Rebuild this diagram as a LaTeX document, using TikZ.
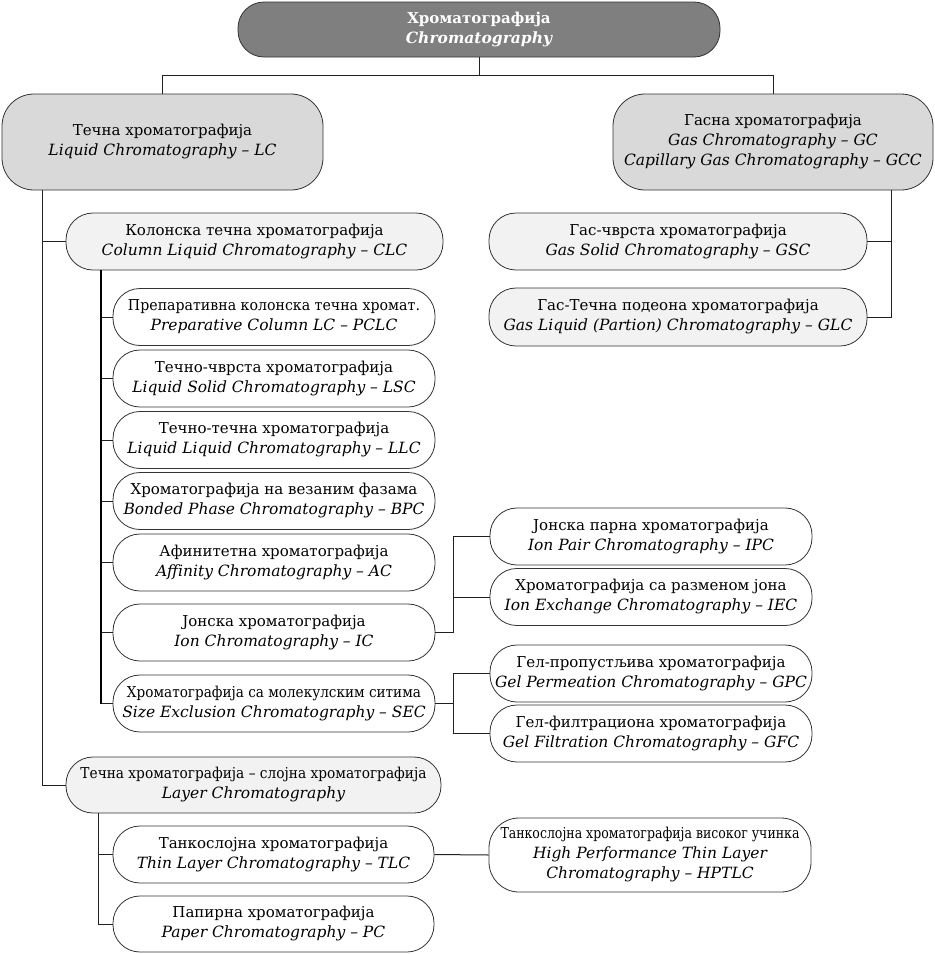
\documentclass[tikz,border=0pt]{standalone}
\usepackage{fontspec}
\usepackage{graphicx}
\setmainfont{DejaVu Serif}
\newcommand{\fs}{\fontsize{15pt}{20pt}\selectfont}
\newcommand{\en}[1]{{\fontsize{15.5pt}{20pt}\selectfont\itshape #1}}
\newcommand{\squeeze}[2]{\resizebox{#1}{\height}{#2}}
\definecolor{topfill}{HTML}{7F7F7F}
\definecolor{midfill}{HTML}{D9D9D9}
\definecolor{lightfill}{HTML}{F2F2F2}
\definecolor{linec}{HTML}{202020}
\begin{document}
\begin{tikzpicture}[x=1pt,y=-1pt,
  box/.style={draw=black!80, line width=0.8pt, align=center, inner sep=0pt, font=\fs,
    rounded corners=27pt, minimum height=57pt, minimum width=322pt, fill=white},
  topbox/.style={box, fill=topfill, text=white, rounded corners=26pt, minimum height=55pt, minimum width=482pt},
  bigbox/.style={box, fill=midfill, rounded corners=32pt, minimum height=96pt, minimum width=321pt},
  lightbox/.style={box, fill=lightfill},
  conn/.style={draw=linec, line width=1pt},
  thick conn/.style={draw=black, line width=1.6pt}
]
\useasboundingbox (0,0) rectangle (935,954);

% top level
\node[topbox] (top) at (479,29.5) {\bfseries Хроматографија\\\en{\bfseries Chromatography}};
\node[bigbox] (LC) at (162.5,142) {Течна хроматографија\\\en{Liquid Chromatography – LC}};
\node[bigbox, minimum width=320pt] (GC) at (773,142) {Гасна хроматографија\\\en{Gas Chromatography – GC}\\\en{Capillary Gas Chromatography – GCC}};

% gas branch
\node[lightbox, minimum width=378pt] (GSC) at (678,241.5) {Гас-чврста хроматографија\\\en{Gas Solid Chromatography – GSC}};
\node[lightbox, minimum width=378pt, minimum height=58pt] (GLC) at (678,317) {Гас-Течна подеона хроматографија\\\en{Gas Liquid (Partion) Chromatography – GLC}};

% column LC
\node[lightbox, minimum width=377pt] (CLC) at (254.5,241.5) {Колонска течна хроматографија\\\en{Column Liquid Chromatography – CLC}};
\node[box] (PCLC) at (274,317) {\squeeze{292pt}{Препаративна колонска течна хромат.}\\\en{Preparative Column LC – PCLC}};
\node[box] (LSC) at (274,378.5) {Течно-чврста хроматографија\\\en{Liquid Solid Chromatography – LSC}};
\node[box] (LLC) at (274,440) {Течно-течна хроматографија\\\en{Liquid Liquid Chromatography – LLC}};
\node[box] (BPC) at (274,501) {Хроматографија на везаним фазама\\\en{Bonded Phase Chromatography – BPC}};
\node[box] (AC) at (274,562.5) {Афинитетна хроматографија\\\en{Affinity Chromatography – AC}};
\node[box] (IC) at (274,632.5) {Јонска хроматографија\\\en{Ion Chromatography – IC}};
\node[box] (SEC) at (274,703.5) {\squeeze{294pt}{Хроматографија са молекулским ситима}\\\en{Size Exclusion Chromatography – SEC}};

\node[box] (IPC) at (651,536.5) {Јонска парна хроматографија\\\en{Ion Pair Chromatography – IPC}};
\node[box] (IEC) at (651,597) {Хроматографија са разменом јона\\\en{Ion Exchange Chromatography – IEC}};
\node[box] (GPC) at (651,673.5) {Гел-пропустљива хроматографија\\\en{Gel Permeation Chromatography – GPC}};
\node[box] (GFC) at (651,733.5) {Гел-филтрациона хроматографија\\\en{Gel Filtration Chromatography – GFC}};

% layer
\node[lightbox, minimum width=375pt, minimum height=56pt] (LAY) at (253.5,785) {\squeeze{346pt}{Течна хроматографија – слојна хроматографија}\\\en{Layer Chromatography}};
\node[box, minimum width=321pt] (TLC) at (273.5,854.5) {Танкослојна хроматографија\\\en{Thin Layer Chromatography – TLC}};
\node[box, minimum width=321pt, minimum height=56pt] (PC) at (273.5,924) {Папирна хроматографија\\\en{Paper Chromatography – PC}};
\node[box, minimum height=74pt, rounded corners=30pt] (HPTLC) at (650,855) {\squeeze{299pt}{Танкослојна хроматографија високог учинка}\\\en{High Performance Thin Layer}\\\en{Chromatography – HPTLC}};

% trunk coordinates
\coordinate (lt) at (42,190);
\coordinate (ct) at (101,270);
\coordinate (gt) at (891,190);
\coordinate (yt) at (98,813);

% connectors
\draw[conn] (top.south) -- ++(0,18) -| (LC.north);
\draw[conn] (top.south) -- ++(0,18) -| (GC.north);
\draw[conn] (lt) |- (CLC.west);
\draw[conn] (lt) |- (LAY.west);
\draw[conn] (gt) |- (GSC.east);
\draw[conn] (gt) |- (GLC.east);
\foreach \n in {PCLC,LSC,LLC,BPC,AC,IC,SEC} \draw[conn] (ct) |- (\n.west);
\draw[thick conn] (ct) -- (ct |- SEC.west);
\draw[conn] (IC.east) -- ++(18,0) |- (IPC.west);
\draw[conn] (IC.east) -- ++(18,0) |- (IEC.west);
\draw[conn] (SEC.east) -- ++(18,0) |- (GPC.west);
\draw[conn] (SEC.east) -- ++(18,0) |- (GFC.west);
\draw[conn] (yt) |- (TLC.west);
\draw[conn] (yt) |- (PC.west);
\draw[conn] (TLC.east) -- (HPTLC.west);
\end{tikzpicture}
\end{document}
